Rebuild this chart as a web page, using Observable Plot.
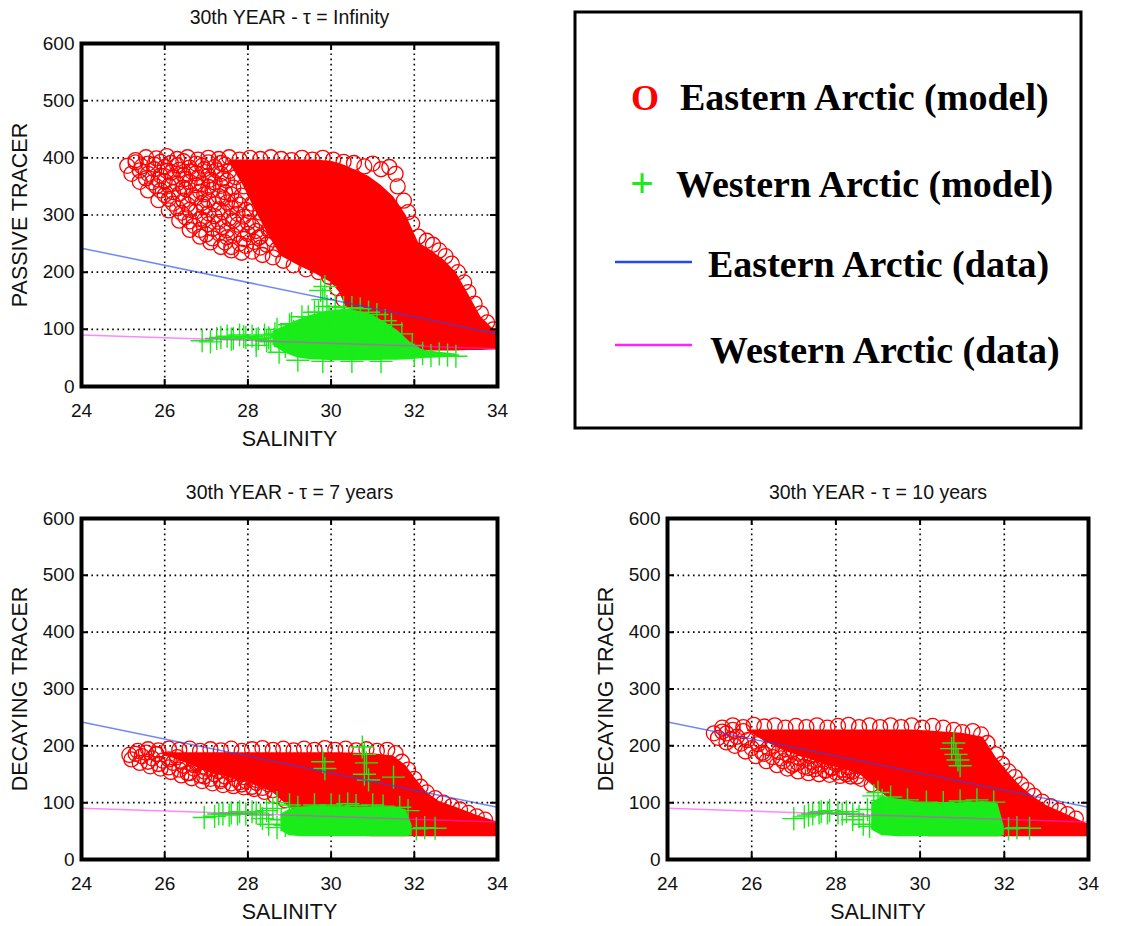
<!DOCTYPE html>
<html><head><meta charset="utf-8">
<script src="https://cdn.jsdelivr.net/npm/d3@7"></script>
<script src="https://cdn.jsdelivr.net/npm/@observablehq/plot@0.6"></script>
<style>
body{margin:0;background:#fff;}
#root{position:relative;width:1133px;height:926px;overflow:hidden;background:#fff;}
.panel{position:absolute;}
</style></head><body><div id="root"></div>
<script>
// ---------- axes / labels ----------
const salinityTicks = [24, 26, 28, 30, 32, 34];
const tracerTicks = [0, 100, 200, 300, 400, 500, 600];
const titles = ["30th YEAR - \u03c4 = Infinity", "30th YEAR - \u03c4 = 7 years", "30th YEAR - \u03c4 = 10 years"];
const yLabels = ["PASSIVE TRACER", "DECAYING TRACER", "DECAYING TRACER"];
const xLabel = "SALINITY";
const legendLabels = ["Eastern Arctic (model)", "Western Arctic (model)", "Eastern Arctic (data)", "Western Arctic (data)"];

// ---------- observed data lines (same in all panels) ----------
const eastDataS = [24, 34];
const eastDataT = [242, 92];
const westDataS = [24, 34];
const westDataT = [90, 66];

// ---------- panel 1 : tau = Infinity ----------
const infEastCoreS  = [27.55, 27.9, 28.2, 28.5, 28.8, 29.2, 29.6, 30.0, 30.2, 30.35, 30.6, 30.9, 31.2, 31.5, 31.8, 32.1, 32.4, 32.7, 33.0, 33.3, 33.6, 33.9, 34.0];
const infEastCoreLo = [392, 350, 305, 264, 228, 212, 198, 182, 165, 140, 128, 116, 105, 95, 78, 64, 62, 62, 62, 63, 63, 64, 64];
const infEastCoreHi = [396, 396, 396, 396, 396, 396, 396, 394, 390, 386, 378, 368, 352, 332, 300, 252, 238, 222, 200, 162, 122, 100, 96];
const infEastRingS = [
  25.1,25.3,25.55,25.8,26.05,26.3,26.55,26.8,27.05,27.3,27.55,27.8,28.05,28.3,28.55,28.8,29.05,29.3,29.55,29.8,30.05,30.3,30.55,30.8,31.0,31.2,31.4,31.55,
  31.6,31.75,31.85,31.95,32.1,32.3,32.45,32.6,32.75,32.9,33.05,33.2,33.3,33.45,33.6,33.75,33.9,
  25.2,25.4,25.6,25.85,26.1,26.35,26.6,26.85,27.1,27.35,27.6,27.85,28.1,28.35,28.6,28.85,29.1,29.4,29.7,29.95,30.15,30.3,30.5,
  25.45,25.75,26.0,26.3,26.6,26.9,27.2,27.45,
  25.6,25.9,26.15,26.45,26.75,27.05,27.35,
  25.7,26.0,26.3,26.6,26.9,27.2,27.5,
  25.9,26.2,26.5,26.85,27.15,27.45,
  26.1,26.45,26.75,27.05,27.4,27.7,
  26.3,26.6,26.95,27.3,27.6,27.95,
  26.5,26.85,27.2,27.55,27.9,
  26.7,27.05,27.4,27.75,28.1,
  27.0,27.3,27.65,28.0,28.3,
  27.45,27.8,28.15,28.45,
  25.3,25.6,25.9,26.15,26.45,26.75,27.05,27.35,
  25.4,25.75,26.05,26.35,26.65,26.95,27.25,27.55,
  25.55,25.85,26.2,26.5,26.8,27.1,27.4,27.7,
  25.8,26.1,26.45,26.75,27.05,27.35,27.65,27.9,
  26.0,26.35,26.65,26.95,27.3,27.6,27.85,
  26.2,26.55,26.9,27.2,27.5,27.8,28.1,
  26.4,26.75,27.05,27.4,27.75,28.05,28.3,
  26.6,26.95,27.3,27.65,28.0,28.3,
  26.85,27.15,27.5,27.85,28.2,28.5,
  27.15,27.5,27.9,28.25,28.6,
  27.6,27.95,28.3,28.7];
const infEastRingT = [
  386,396,401,399,403,398,401,397,400,398,401,397,400,398,401,398,396,400,397,400,397,393,391,385,390,380,384,372,
  350,325,305,285,262,255,248,238,228,215,200,182,165,145,128,112,100,
  372,358,343,326,308,290,274,262,252,244,238,234,236,230,226,220,212,205,200,192,172,152,136,
  385,388,384,387,383,386,384,388,
  372,369,374,370,373,369,372,
  357,359,355,358,354,357,360,
  343,340,345,341,344,340,
  328,325,330,326,329,325,
  312,309,314,310,313,309,
  296,293,298,294,297,
  281,284,279,283,280,
  266,268,264,267,262,
  252,250,253,248,
  392,390,393,391,394,390,392,391,
  378,380,377,379,376,380,378,377,
  364,362,366,363,365,362,364,366,
  350,351,348,352,349,351,348,350,
  335,337,334,336,333,336,334,
  320,318,321,319,322,318,320,
  304,306,303,305,302,306,304,
  289,291,288,290,287,290,
  274,276,273,275,272,274,
  259,261,258,260,257,
  244,246,243,240];
const infWestCoreS  = [28.6, 28.9, 29.2, 29.5, 29.8, 30.1, 30.4, 30.7, 31.0, 31.3, 31.6, 31.9, 32.2, 32.6, 33.0];
const infWestCoreLo = [72, 58, 50, 47, 46, 45, 45, 45, 45, 46, 46, 47, 49, 50, 52];
const infWestCoreHi = [96, 106, 116, 124, 130, 134, 135, 131, 125, 112, 98, 78, 64, 60, 57];
const infWestPlusS = [26.9,27.1,27.25,27.35,27.5,27.6,27.65,27.8,27.9,27.95,28.1,28.2,28.25,28.4,28.5,28.55,28.2,28.7,28.8,28.9,28.75,29.0,29.1,28.65,28.45,
  29.75,29.8,29.85,29.9,29.7,29.95, 29.3,29.6,30.1,30.5,30.9,31.3, 32.0,32.2,32.4,32.6,32.8,33.0, 29.2,29.8,30.5,31.2,
  29.05,29.45,30.3,30.7,31.1,31.45,31.7,31.95];
const infWestPlusT = [80,78,84,86,88,83,84,90,87,86,88,82,84,90,85,78,72,100,88,70,60,108,96,92,80,
  168,152,175,140,130,122, 122,130,140,138,130,115, 55,58,54,57,55,53, 46,44,44,44,
  110,122,138,136,126,108,92,72];

// ---------- panel 2 : tau = 7 years ----------
const y7EastCoreS  = [26.0, 26.5, 27.0, 27.5, 28.0, 28.6, 29.0, 29.4, 29.8, 30.2, 31.0, 31.5, 31.8, 32.0, 32.3, 32.6, 33.0, 33.5, 34.0];
const y7EastCoreLo = [184, 170, 155, 145, 135, 118, 92, 72, 55, 42, 40, 40, 40, 40, 40, 40, 40, 40, 40];
const y7EastCoreHi = [188, 188, 188, 188, 188, 188, 188, 188, 188, 188, 186, 182, 165, 145, 118, 102, 92, 78, 66];
const y7EastRingS = [
  25.15,25.35,25.6,25.85,26.1,26.35,26.6,26.85,27.1,27.35,27.6,27.85,28.1,28.35,28.6,28.85,29.1,29.35,29.6,29.85,30.1,30.35,30.6,30.85,31.1,31.35,31.55,
  31.7,31.85,32.0,32.15,32.3,32.5,32.7,32.9,33.1,33.3,33.5,33.7,
  25.2,25.4,25.65,25.9,26.15,26.4,26.65,26.9,27.15,27.4,27.65,27.9,28.15,28.4,28.65,28.9,
  25.45,25.7,25.95,26.2,26.45,26.7,26.95,27.2,27.45,27.7,27.95,28.2,25.8,26.3,26.75,27.1,27.5,27.85,28.25,26.55,26.95,27.35,27.8,
  25.3,25.55,25.8,25.6,25.85,26.1,26.35,26.6,26.85,27.1,27.35,27.6,27.85,28.1,28.35,28.6,26.1,26.4,26.7,27.0,27.3,27.6,27.9,28.2,28.5];
const y7EastRingT = [
  184,191,194,192,195,193,195,191,194,192,195,191,194,196,193,195,192,195,193,196,193,195,192,194,191,193,187,
  172,158,142,128,118,108,100,94,88,82,76,70,
  176,170,164,160,154,148,143,138,134,131,129,127,124,119,112,104,
  182,178,174,170,165,160,155,150,146,142,138,135,185,180,170,163,156,150,146,152,146,141,136,
  186,188,186,172,168,162,158,152,148,142,138,134,132,128,126,122,176,172,166,160,155,150,145,140,132];
const y7WestCoreS  = [28.8, 29.0, 29.3, 29.6, 30.0, 30.5, 31.0, 31.5, 31.8, 31.95];
const y7WestCoreLo = [50, 42, 40, 40, 40, 40, 40, 40, 40, 42];
const y7WestCoreHi = [80, 88, 92, 94, 93, 92, 93, 92, 88, 60];
const y7WestPlusS = [26.95,27.2,27.3,27.4,27.55,27.6,27.75,27.8,27.95,28.1,28.2,28.3,28.45,28.6,28.7,28.8,28.5,28.7,29.0,28.9,28.35,
  29.8,29.85,30.75,30.8,30.85,30.8,30.9,31.5,30.0,30.4, 32.05,32.25,32.5,
  29.2,29.6,30.2,30.6,31.0,31.25,31.65,31.85];
const y7WestPlusT = [74,76,80,80,78,82,80,84,80,84,82,78,86,90,100,70,62,56,96,60,72,
  172,160,198,185,170,150,140,145,96,98, 54,56,55,
  92,96,94,95,96,94,92,86];

// ---------- panel 3 : tau = 10 years ----------
const y10EastCoreS  = [25.9, 26.3, 26.8, 27.3, 27.8, 28.3, 28.6, 29.0, 29.4, 29.8, 30.2, 31.0, 31.5, 31.8, 32.1, 32.4, 32.7, 33.0, 33.4, 34.0];
const y10EastCoreLo = [226, 208, 190, 178, 166, 156, 148, 122, 100, 60, 40, 40, 40, 40, 40, 40, 40, 40, 40, 40];
const y10EastCoreHi = [228, 228, 228, 228, 228, 228, 228, 228, 228, 228, 226, 222, 215, 180, 152, 128, 110, 95, 82, 62];
const y10EastRingS = [
  25.1,25.3,25.55,25.8,26.05,26.3,26.55,26.8,27.05,27.3,27.55,27.8,28.05,28.3,28.55,28.8,29.05,29.3,29.55,29.8,30.05,30.3,30.55,30.8,31.0,31.25,31.45,
  31.6,31.8,31.95,32.1,32.25,32.4,32.55,32.7,32.9,33.1,33.3,33.5,33.7,
  25.2,25.4,25.6,25.85,26.1,26.35,26.6,26.85,27.1,27.35,27.6,27.85,28.1,28.35,28.6,28.85,
  25.4,25.65,25.9,26.15,26.4,26.65,26.9,27.15,27.4,27.65,27.9,28.15,28.4,26.3,26.7,27.1,27.5,27.9,28.3,26.95,27.35,27.75,28.2,
  25.3,25.55,25.8,25.5,25.75,26.0,26.25,26.5,26.75,27.0,27.25,27.5,27.75,28.0,28.25,28.5,26.2,26.5,26.8,27.1,27.4,27.7,28.0,28.3,28.6];
const y10EastRingT = [
  222,232,236,233,237,234,236,232,235,233,236,232,235,237,233,236,233,236,233,236,232,235,232,228,224,226,220,
  205,185,168,155,145,132,122,112,102,94,86,80,72,
  214,206,200,190,182,173,166,160,155,152,150,149,147,146,142,132,
  222,216,210,203,196,189,183,178,172,167,162,158,155,186,178,170,165,160,156,165,161,157,153,
  225,228,226,212,204,196,188,180,173,168,163,159,156,153,150,146,210,200,194,188,182,176,168,162,156];
const y10WestCoreS  = [28.85, 29.1, 29.5, 30.0, 30.5, 31.0, 31.5, 31.85, 32.0];
const y10WestCoreLo = [52, 42, 40, 40, 40, 40, 40, 40, 42];
const y10WestCoreHi = [100, 110, 106, 100, 98, 100, 102, 98, 58];
const y10WestPlusS = [27.0,27.25,27.35,27.45,27.6,27.65,27.8,27.85,28.05,28.15,28.25,28.4,28.55,28.65,28.8,28.9,29.0,29.1,28.75,28.4,
  30.8,30.75,30.85,30.9,30.95, 32.1,32.3,32.6,
  29.3,29.7,30.15,30.55,30.95,31.35,31.75];
const y10WestPlusT = [72,75,78,80,82,84,82,86,82,80,84,80,76,62,58,112,118,104,88,70,
  205,195,185,175,165, 54,56,55,
  110,105,101,100,103,105,101];

// ---------- colours ----------
const colRed = "#ff0000", colGreen = "#19ec19", colBlue = "#2448f0", colMagenta = "#ff22ff";

// ---------- helpers ----------
const pts = (s, t) => s.map((v, i) => ({s: v, t: t[i]}));
const band = (s, lo, hi) => s.map((v, i) => ({s: v, lo: lo[i], hi: hi[i]}));

function panel(cfg) {
  const grid = {stroke: "#000", strokeOpacity: 1, strokeWidth: 1.6, strokeDasharray: "1.6,3.6"};
  const fw = cfg.width - cfg.ml - cfg.mr, fh = cfg.height - cfg.mt - cfg.mb;
  return Plot.plot({
    width: cfg.width, height: cfg.height,
    marginLeft: cfg.ml, marginRight: cfg.mr, marginTop: cfg.mt, marginBottom: cfg.mb,
    style: {fontFamily: "'Liberation Sans', Arial, sans-serif", background: "transparent", overflow: "visible", color: "#111"},
    x: {domain: [24, 34]},
    y: {domain: [0, 600]},
    marks: [
      Plot.gridX(salinityTicks, grid),
      Plot.gridY(tracerTicks, grid),
      Plot.areaY(band(cfg.eS, cfg.eLo, cfg.eHi), {x: "s", y1: "lo", y2: "hi", fill: colRed, clip: true}),
      Plot.dot(pts(cfg.rS, cfg.rT), {x: "s", y: "t", r: 7.5, stroke: colRed, strokeWidth: 1.3, fill: "none", clip: true}),
      Plot.areaY(band(cfg.wS, cfg.wLo, cfg.wHi), {x: "s", y1: "lo", y2: "hi", fill: colGreen, clip: true}),
      Plot.dot(pts(cfg.pS, cfg.pT), {x: "s", y: "t", r: 7.5, symbol: "plus", stroke: colGreen, strokeWidth: 1.4, fill: "none", clip: true}),
      Plot.line(pts(eastDataS, eastDataT), {x: "s", y: "t", stroke: colBlue, strokeOpacity: 0.65, strokeWidth: 1.5}),
      Plot.line(pts(westDataS, westDataT), {x: "s", y: "t", stroke: colMagenta, strokeOpacity: 0.55, strokeWidth: 1.5}),
      // inward tick marks at both ends of each grid line (MATLAB style)
      Plot.gridX(salinityTicks, {stroke: "#000", strokeOpacity: 1, strokeWidth: 2, strokeDasharray: `7,${fh - 14},7`}),
      Plot.gridY(tracerTicks, {stroke: "#000", strokeOpacity: 1, strokeWidth: 2, strokeDasharray: `7,${fw - 14},7`}),
      Plot.frame({stroke: "#000", strokeWidth: 4}),
      Plot.axisX(salinityTicks, {tickSize: 0, tickPadding: 17, fontSize: 19, label: null}),
      Plot.axisY(tracerTicks, {tickSize: 0, tickPadding: 7, fontSize: 19, label: null}),
      Plot.text([cfg.title], {frameAnchor: "top", dy: -33, fontSize: 19.5}),
      Plot.text([xLabel], {frameAnchor: "bottom", dy: 59, fontSize: 21.5}),
      Plot.text([cfg.ylabel], {frameAnchor: "left", textAnchor: "middle", dx: -61, rotate: -90, fontSize: 21.5})
    ]
  });
}

const root = document.getElementById("root");
function place(node, left, top) {
  node.classList.add("panel");
  node.style.left = left + "px";
  node.style.top = top + "px";
  root.appendChild(node);
}

place(panel({width: 560, height: 460, ml: 81, mr: 63, mt: 43, mb: 74, title: titles[0], ylabel: yLabels[0],
  eS: infEastCoreS, eLo: infEastCoreLo, eHi: infEastCoreHi, rS: infEastRingS, rT: infEastRingT,
  wS: infWestCoreS, wLo: infWestCoreLo, wHi: infWestCoreHi, pS: infWestPlusS, pT: infWestPlusT}), 0, 0);

place(panel({width: 560, height: 456, ml: 81, mr: 63, mt: 48, mb: 67, title: titles[1], ylabel: yLabels[1],
  eS: y7EastCoreS, eLo: y7EastCoreLo, eHi: y7EastCoreHi, rS: y7EastRingS, rT: y7EastRingT,
  wS: y7WestCoreS, wLo: y7WestCoreLo, wHi: y7WestCoreHi, pS: y7WestPlusS, pT: y7WestPlusT}), 0, 470);

place(panel({width: 553, height: 456, ml: 87, mr: 45, mt: 48, mb: 67, title: titles[2], ylabel: yLabels[2],
  eS: y10EastCoreS, eLo: y10EastCoreLo, eHi: y10EastCoreHi, rS: y10EastRingS, rT: y10EastRingT,
  wS: y10WestCoreS, wLo: y10WestCoreLo, wHi: y10WestCoreHi, pS: y10WestPlusS, pT: y10WestPlusT}), 580, 470);

// ---------- legend box ----------
const L = d3.create("svg").attr("width", 511).attr("height", 421)
  .style("position", "absolute").style("left", "573px").style("top", "10px");
L.append("rect").attr("x", 2).attr("y", 2).attr("width", 506).attr("height", 416)
  .attr("fill", "#fff").attr("stroke", "#000").attr("stroke-width", 3);
const serif = "'Liberation Serif', 'Times New Roman', serif";
const rows = [
  {kind: "O", color: colRed, mx: 72, tx: 107, base: 100},
  {kind: "+", color: colGreen, mx: 69, tx: 103, base: 187},
  {kind: "line", color: colBlue, mx: 42, tx: 135, base: 267, ly: 252},
  {kind: "line", color: colMagenta, mx: 42, tx: 137, base: 353, ly: 335}
];
rows.forEach((r, i) => {
  if (r.kind === "line") {
    L.append("line").attr("x1", r.mx).attr("x2", r.mx + 77).attr("y1", r.ly).attr("y2", r.ly)
      .attr("stroke", r.color).attr("stroke-width", 2.5);
  } else {
    L.append("text").attr("x", r.mx).attr("y", r.base).attr("text-anchor", "middle")
      .attr("font-family", serif).attr("font-weight", "bold").attr("font-size", r.kind === "O" ? 36 : 42)
      .attr("fill", r.color).text(r.kind);
  }
  L.append("text").attr("x", r.tx).attr("y", r.base).attr("font-family", serif)
    .attr("font-weight", "bold").attr("font-size", 38).attr("fill", "#000").text(legendLabels[i]);
});
root.appendChild(L.node());
</script>
</body></html>
